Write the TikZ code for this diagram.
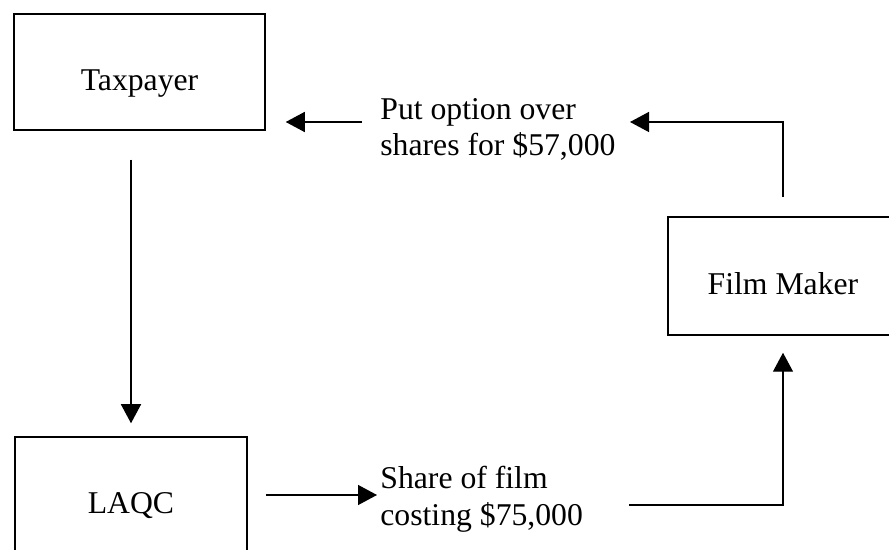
\documentclass[tikz,border=0pt]{standalone}
\usepackage{fontspec}
\setmainfont{Liberation Serif}
\usetikzlibrary{arrows.meta,positioning}

\begin{document}
\begin{tikzpicture}[x=0.5pt, y=-0.5pt,
    every node/.style={font=\fontsize{15.85}{18.3}\selectfont},
    kasten/.style={draw, line width=0.75pt, text height=19pt, text depth=0pt},
    pfeil/.style={line width=0.7pt, -{Triangle[length=9.5pt,width=10pt]}}]
    \clip (0,0) rectangle (889,550);
    % Kaesten
    \node[kasten, minimum width=125.5pt, minimum height=58pt] (taxpayer) at (139.5,72) {Taxpayer};
    \node[kasten, minimum width=116pt, minimum height=58pt] (laqc) at (131,495) {LAQC};
    \node[kasten, minimum width=115pt, minimum height=59pt] (film) at (783,276) {Film Maker};
    % Beschriftungen
    \node[anchor=north west, inner sep=0pt, align=left] (put) at (380,98) {Put option over\\shares for \$57,000};
    \node[anchor=north west, inner sep=0pt, align=left] (share) at (380,466) {Share of film\\costing \$75,000};
    \coordinate (putfoot) at (362,122);
    \coordinate (puttip) at (630,122);
    \coordinate (sharefoot) at (629,505);
    % Pfeile
    \draw[pfeil, shorten <=14.5pt, shorten >=6.5pt] (laqc.north |- taxpayer.south) -- (laqc.north);
    \draw[pfeil, shorten <=9pt, shorten >=1.5pt] (laqc.east) -- (laqc.east -| share.west);
    \draw[pfeil, shorten >=8.5pt] (sharefoot) -| (film.south);
    \draw[pfeil, shorten <=9.5pt] (film.north) |- (puttip);
    \draw[pfeil, shorten >=10pt] (putfoot) -- (taxpayer.east |- putfoot);
\end{tikzpicture}
\end{document}
